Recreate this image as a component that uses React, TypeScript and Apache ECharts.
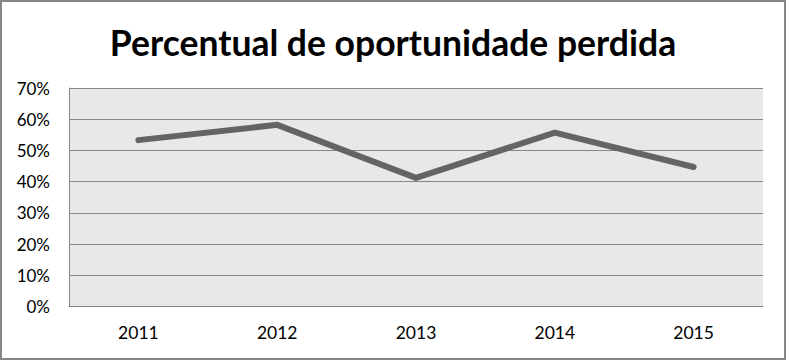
import React, { useEffect, useRef } from "react";
import * as echarts from "echarts";

const categories = ["2011", "2012", "2013", "2014", "2015"];
const values = [0.533, 0.582, 0.412, 0.557, 0.447];
const yTicks = [0, 0.1, 0.2, 0.3, 0.4, 0.5, 0.6, 0.7];
const title = "Percentual de oportunidade perdida";

export default function App() {
  const ref = useRef<HTMLDivElement>(null);
  useEffect(() => {
    document.body.style.margin = "0";
    const chart = echarts.init(ref.current!, null, { renderer: "svg" });
    chart.setOption({
      animation: false,
      backgroundColor: "#ffffff",
      title: {
        text: title,
        left: "center",
        top: 19,
        textStyle: {
          fontFamily: "Lato, 'Open Sans', sans-serif",
          fontWeight: "bold",
          fontSize: 35.5,
          color: "#000000",
        },
      },
      graphic: [
        {
          type: "rect",
          shape: { x: 1, y: 1, width: 784, height: 358 },
          style: { fill: "none", stroke: "#868686", lineWidth: 2 },
          silent: true,
        },
      ],
      grid: { left: 69, right: 23, top: 88, bottom: 53.5, backgroundColor: "#e8e8e8", show: true, borderWidth: 0 },
      xAxis: {
        type: "category",
        data: categories,
        boundaryGap: true,
        axisLine: { show: true, lineStyle: { color: "#868686", width: 1 } },
        axisTick: { show: false },
        axisLabel: {
          margin: 17,
          fontFamily: "Lato, 'Open Sans', sans-serif",
          fontSize: 17.5,
          color: "#000000",
        },
      },
      yAxis: {
        type: "value",
        min: yTicks[0],
        max: yTicks[yTicks.length - 1],
        interval: 0.1,
        axisLine: { show: true, lineStyle: { color: "#868686", width: 1 } },
        axisTick: { show: false },
        splitLine: { show: true, lineStyle: { color: "#868686", width: 1 } },
        axisLabel: {
          margin: 19,
          fontFamily: "Lato, 'Open Sans', sans-serif",
          fontSize: 17,
          color: "#000000",
          formatter: (v: number) => `${Math.round(v * 100)}%`,
        },
      },
      series: [
        {
          type: "line",
          data: values,
          symbol: "none",
          lineStyle: { color: "#646464", width: 6, cap: "round", join: "round" },
        },
      ],
    });
    return () => chart.dispose();
  }, []);
  return <div ref={ref} style={{ width: 786, height: 360 }} />;
}
